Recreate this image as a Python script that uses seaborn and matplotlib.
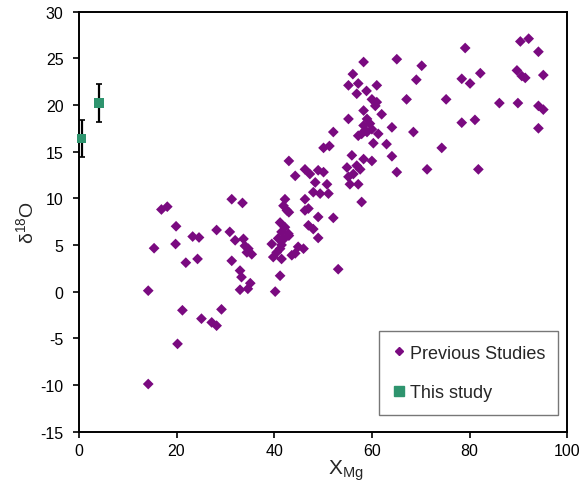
import numpy as np
import pandas as pd
import seaborn as sns
import matplotlib.pyplot as plt
from matplotlib.lines import Line2D

# previous studies (X_Mg, d18O)
prev_xmg = [14.2, 14.2, 15.4, 16.9, 18.1, 19.9, 19.8, 20.2, 21.2, 21.9,
            23.3, 24.6, 24.3, 25.1, 27.2, 28.2, 28.2, 29.2, 30.9, 31.3,
            33.5, 32.0, 33.7, 34.0, 34.7, 35.4, 34.4, 31.3, 33.0, 33.3,
            35.1, 33.0, 34.6,
            39.5, 39.8, 40.5, 41.5, 40.2, 41.2, 41.2, 42.2, 41.5, 42.9,
            40.8, 41.9, 41.5, 43.0, 41.2, 43.6, 44.3, 44.9, 46.0, 42.2,
            41.9, 42.6, 43.0, 46.3, 46.3, 47.0, 49.0, 52.1, 47.0, 48.0,
            49.0, 53.1, 43.0, 44.3, 46.3, 47.3, 49.0, 50.1, 48.4, 50.8,
            49.4, 48.0, 51.1,
            50.1, 51.3, 52.1, 55.2, 54.9, 56.9, 57.6, 56.2, 55.2, 55.5,
            57.2, 55.9, 58.3, 60.0, 57.9, 60.3, 63.0, 64.1, 65.1, 58.3,
            59.0, 59.6, 58.3, 60.0, 58.6, 57.2, 57.9, 59.0, 61.3, 62.0,
            64.1, 68.5, 60.0, 61.0, 60.7, 67.1, 55.2, 57.2, 58.9, 61.0,
            56.9, 56.1, 58.3, 65.1, 69.1, 70.2,
            71.3, 74.3, 75.2, 78.4, 81.1, 81.8, 78.4, 80.1, 82.2, 79.1,
            86.1, 89.9, 89.7, 90.7, 91.4, 90.4, 92.1, 94.1, 95.1, 94.1,
            95.1, 94.1]
prev_d18o = [-9.9, 0.1, 4.65, 8.8, 9.1, 7.0, 5.1, -5.6, -2.0, 3.1,
             5.9, 5.8, 3.5, -2.9, -3.3, -3.65, 6.6, -1.9, 6.4, 9.9,
             9.5, 5.5, 5.65, 4.9, 4.6, 4.0, 4.2, 3.3, 2.25, 1.55,
             0.9, 0.2, 0.3,
             5.1, 3.7, 4.2, 3.5, 0.0, 1.7, 7.4, 6.9, 6.4, 6.2,
             5.7, 5.6, 5.0, 6.0, 4.6, 3.9, 4.1, 4.8, 4.6, 9.9,
             9.2, 8.7, 8.5, 9.9, 8.7, 8.9, 8.0, 7.9, 7.1, 6.7,
             5.75, 2.4, 14.0, 12.4, 13.1, 12.6, 13.0, 12.8, 11.7, 11.5,
             10.5, 10.65, 10.5,
             15.4, 15.6, 17.1, 18.5, 13.3, 13.5, 13.1, 12.6, 12.3, 11.5,
             11.5, 14.6, 14.2, 14.0, 9.6, 15.9, 15.8, 14.5, 12.8, 19.4,
             18.5, 18.0, 17.8, 17.4, 17.25, 16.7, 16.9, 17.1, 16.9, 19.0,
             17.6, 17.1, 20.6, 20.3, 19.9, 20.6, 22.1, 22.3, 21.5, 22.1,
             21.2, 23.3, 24.6, 24.9, 22.7, 24.2,
             13.1, 15.4, 20.6, 18.1, 18.4, 13.1, 22.8, 22.3, 23.4, 26.1,
             20.2, 20.2, 23.7, 23.1, 22.9, 26.8, 27.1, 25.7, 23.2, 19.9,
             19.5, 17.5]

# this study, with error bars
this_xmg = [0.55, 4.2]
this_d18o = [16.4, 20.2]
this_err = [2.0, 2.0]

purple = "#7a0a80"
green = "#2e946e"

sns.set_style("ticks")
plt.rcParams["font.family"] = ["Liberation Sans", "DejaVu Sans"]
plt.rcParams["mathtext.fontset"] = "custom"
plt.rcParams["mathtext.rm"] = "Liberation Sans"
plt.rcParams["axes.unicode_minus"] = False

prev = pd.DataFrame({"xmg": prev_xmg, "d18o": prev_d18o})
this = pd.DataFrame({"xmg": this_xmg, "d18o": this_d18o, "err": this_err})

fig = plt.figure(figsize=(5.8, 4.85), dpi=100)
ax = fig.add_axes([0.136, 0.108, 0.842, 0.866])

sns.scatterplot(data=prev, x="xmg", y="d18o", marker="D", s=30, color=purple,
                edgecolor="none", ax=ax, zorder=3)
eb = ax.errorbar(this["xmg"], this["d18o"], yerr=this["err"], fmt="none",
                 ecolor="black", elinewidth=1.6, capsize=2.5, capthick=1.2, zorder=5)
for art in eb.lines[1] + eb.lines[2]:
    art.set_clip_on(False)
sns.scatterplot(data=this, x="xmg", y="d18o", marker="s", s=50, color=green,
                edgecolor="none", ax=ax, zorder=6, clip_on=False)

ax.set_xlim(0, 100)
ax.set_ylim(-15, 30)
ax.set_xticks(range(0, 101, 20))
ax.set_yticks(range(-15, 31, 5))
ax.tick_params(direction="out", length=4, width=1.2, labelsize=11.5,
               colors="black")
ax.tick_params(axis="y", pad=7)
ax.tick_params(axis="x", pad=4)
for sp in ax.spines.values():
    sp.set_linewidth(1.4)
    sp.set_color("black")

ax.set_xlabel(r"$\mathregular{X_{Mg}}$", fontsize=15)
ax.xaxis.set_label_coords(0.547, -0.062)
ax.set_ylabel(r"$\mathregular{\delta^{18}O}$", fontsize=14)
ax.yaxis.set_label_coords(-0.086, 0.5)

handles = [
    Line2D([], [], marker="D", color=purple, linestyle="none", markersize=4.5),
    Line2D([], [], marker="s", color=green, linestyle="none", markersize=7),
]
leg = ax.legend(handles, ["Previous Studies", "This study"], loc="lower right",
                bbox_to_anchor=(0.982, 0.04), fontsize=13, frameon=True,
                fancybox=False, edgecolor="#555555", labelspacing=1.25,
                handlelength=0.7, handletextpad=0.25, borderpad=0.75,
                borderaxespad=0)
leg.get_frame().set_linewidth(1.0)

fig.savefig("out.png", dpi=100)
